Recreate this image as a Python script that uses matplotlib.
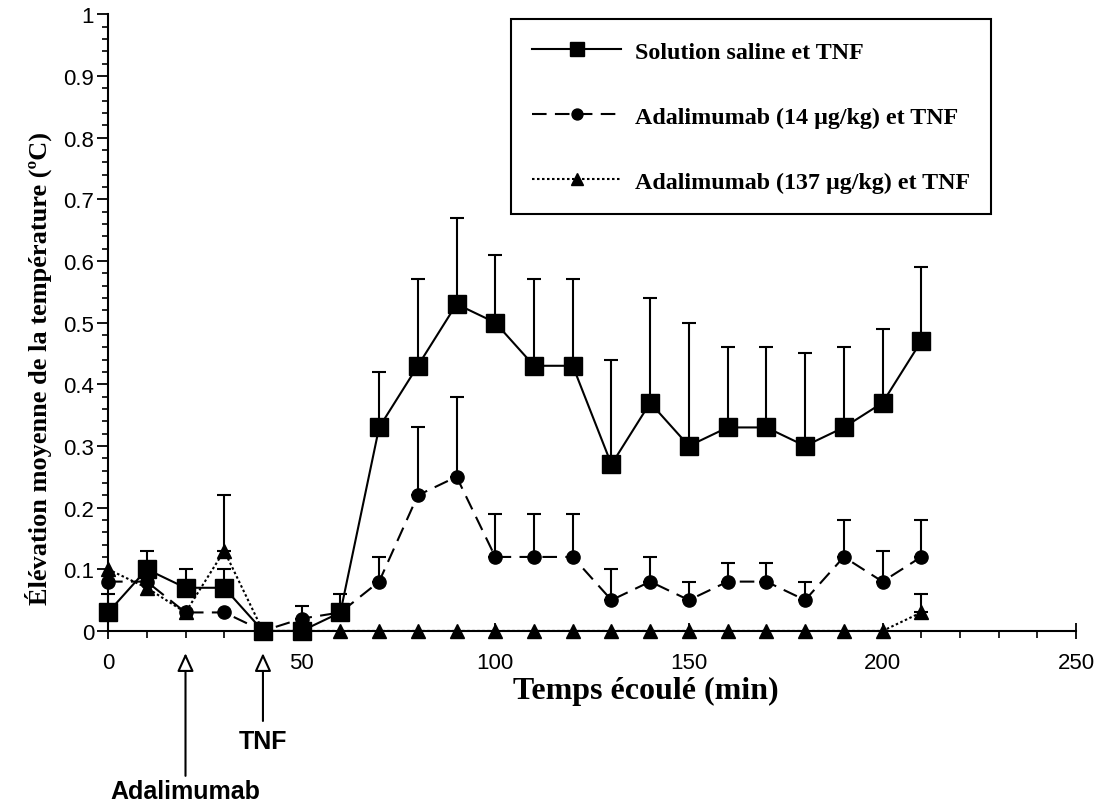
import matplotlib
matplotlib.use("Agg")
import matplotlib.pyplot as plt
import numpy as np
from matplotlib.ticker import MultipleLocator

# ---------------- data ----------------
time_min = [0, 10, 20, 30, 40, 50, 60, 70, 80, 90, 100, 110, 120, 130, 140,
            150, 160, 170, 180, 190, 200, 210]

saline_mean = [0.03, 0.10, 0.07, 0.07, 0.00, 0.00, 0.03, 0.33, 0.43, 0.53, 0.50,
               0.43, 0.43, 0.27, 0.37, 0.30, 0.33, 0.33, 0.30, 0.33, 0.37, 0.47]
saline_err = [0.03, 0.03, 0.03, 0.03, 0.00, 0.00, 0.03, 0.09, 0.14, 0.14, 0.11,
              0.14, 0.14, 0.17, 0.17, 0.20, 0.13, 0.13, 0.15, 0.13, 0.12, 0.12]

ada14_mean = [0.08, 0.08, 0.03, 0.03, 0.00, 0.02, 0.03, 0.08, 0.22, 0.25, 0.12,
              0.12, 0.12, 0.05, 0.08, 0.05, 0.08, 0.08, 0.05, 0.12, 0.08, 0.12]
ada14_err = [0.00, 0.00, 0.00, 0.00, 0.00, 0.02, 0.00, 0.04, 0.11, 0.13, 0.07,
             0.07, 0.07, 0.05, 0.04, 0.03, 0.03, 0.03, 0.03, 0.06, 0.05, 0.06]

ada137_mean = [0.10, 0.07, 0.03, 0.13, 0.00, 0.00, 0.00, 0.00, 0.00, 0.00, 0.00,
               0.00, 0.00, 0.00, 0.00, 0.00, 0.00, 0.00, 0.00, 0.00, 0.00, 0.03]
ada137_err = [0.00, 0.00, 0.00, 0.09, 0.00, 0.00, 0.00, 0.00, 0.00, 0.00, 0.00,
              0.00, 0.00, 0.00, 0.00, 0.00, 0.00, 0.00, 0.00, 0.00, 0.00, 0.03]

labels = ["Solution saline et TNF",
          "Adalimumab (14 µg/kg) et TNF",
          "Adalimumab (137 µg/kg) et TNF"]

events = [(20, "Adalimumab"), (40, "TNF")]

xlabel = "Temps écoulé (min)"
ylabel = "Élévation moyenne de la température (ºC)"

# ---------------- figure ----------------
fig = plt.figure(figsize=(10.97, 8.04), dpi=100)
ax = fig.add_axes([0.0985, 0.214, 0.8825, 0.767])

serif = "Liberation Serif"
sans = "Liberation Sans"

series = [
    (saline_mean, saline_err, "-", "s", 13, labels[0]),
    (ada14_mean, ada14_err, (0, (7, 4)), "o", 9.5, labels[1]),
    (ada137_mean, ada137_err, (0, (1.2, 1.2)), "^", 10, labels[2]),
]

x = np.array(time_min, dtype=float)
handles = []
for i, (m, e, ls, mk, ms, lab) in enumerate(series):
    m = np.array(m)
    e = np.array(e)
    sel = e > 0
    ax.errorbar(x[sel], m[sel], yerr=[np.zeros(sel.sum()), e[sel]], fmt="none",
                ecolor="black", elinewidth=1.5, capsize=5, capthick=1.5,
                zorder=2, clip_on=False)
    h, = ax.plot(x, m, linestyle=ls, color="black", lw=1.5, marker=mk,
                 markersize=ms, markerfacecolor="black", markeredgecolor="black",
                 zorder=3 + (2 - i), clip_on=False, label=lab)
    handles.append(h)

ax.set_xlim(0, 250)
ax.set_ylim(0, 1)
ax.xaxis.set_major_locator(MultipleLocator(50))
ax.xaxis.set_minor_locator(MultipleLocator(10))
ax.yaxis.set_minor_locator(MultipleLocator(0.02))

ax.set_yticks(np.round(np.arange(0, 1.01, 0.1), 1))
ax.set_yticklabels(["0"] + [f"{v:.1f}" for v in np.arange(0.1, 0.95, 0.1)] + ["1"])

for s in ["top", "right"]:
    ax.spines[s].set_visible(False)
for s in ["left", "bottom"]:
    ax.spines[s].set_linewidth(1.5)

ax.tick_params(axis="x", which="major", direction="inout", length=12, width=1.3,
               labelsize=16, pad=9)
ax.tick_params(axis="x", which="minor", direction="out", length=5, width=1.2)
ax.tick_params(axis="y", which="major", direction="out", length=8, width=1.3,
               labelsize=16, pad=2)
ax.tick_params(axis="y", which="minor", direction="out", length=4, width=1.2)
for t in ax.get_xticklabels() + ax.get_yticklabels():
    t.set_fontfamily(sans)

ax.set_xlabel(xlabel, fontfamily=serif, fontweight="bold", fontsize=23,
              labelpad=2, x=0.555)
ax.set_ylabel(ylabel, fontfamily=serif, fontweight="bold", fontsize=19,
              labelpad=8, y=0.428)

leg = ax.legend(handles=handles, loc="upper left", bbox_to_anchor=(0.416, 0.992),
                frameon=True, fancybox=False, edgecolor="black", framealpha=1,
                prop={"family": serif, "weight": "bold", "size": 17.3},
                handlelength=3.7, handletextpad=0.55, labelspacing=1.8,
                borderpad=0.9, borderaxespad=0, markerscale=0.83)
leg.get_frame().set_linewidth(1.5)

# event arrows below the axis
tip_y = -0.036
shaft_end = {"Adalimumab": -0.235, "TNF": -0.146}
text_y = {"Adalimumab": -0.260, "TNF": -0.178}
for xe, name in events:
    ax.annotate("", xy=(xe, tip_y), xycoords=("data", "axes fraction"),
                xytext=(xe, shaft_end[name]), textcoords=("data", "axes fraction"),
                arrowprops=dict(arrowstyle="-|>,head_length=1.1,head_width=0.5",
                                facecolor="white", edgecolor="black", lw=1.5,
                                shrinkA=0, shrinkB=0),
                annotation_clip=False)
    ax.text(xe, text_y[name], name, transform=ax.get_xaxis_transform(),
            ha="center", va="center", fontfamily=sans, fontweight="bold",
            fontsize=18, clip_on=False)

fig.savefig("out.png", dpi=100)
